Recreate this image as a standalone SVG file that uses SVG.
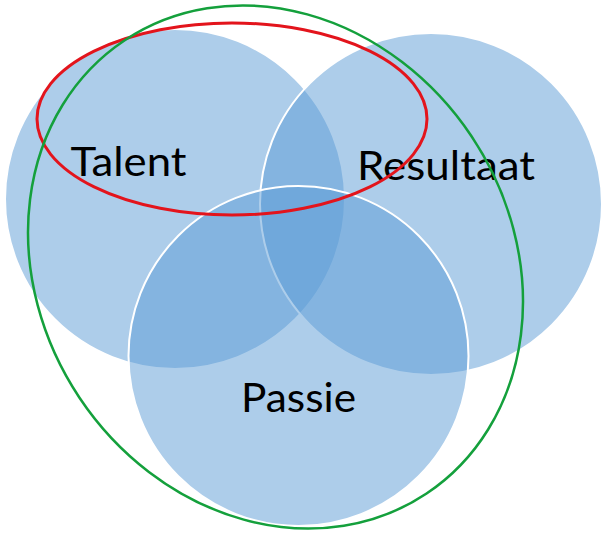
<svg xmlns="http://www.w3.org/2000/svg" width="605" height="536" viewBox="0 0 605 536">
<style>
.c{fill:#5b9bd5;fill-opacity:0.5;stroke:#fff;stroke-width:2}
.t{font-family:Lato,"Open Sans","Liberation Sans",sans-serif;font-size:41px;fill:#000;text-anchor:middle}
</style>
<rect width="605" height="536" fill="#fff"/>
<g id="talent"><circle class="c" cx="175" cy="199" r="170"/></g>
<g id="resultaat"><circle class="c" cx="431" cy="204" r="171"/></g>
<g id="passie"><circle class="c" cx="298.5" cy="356" r="170"/></g>
<g id="labels">
<text class="t" x="128.5" y="176" textLength="116" lengthAdjust="spacingAndGlyphs">Talent</text>
<text class="t" x="446" y="180" textLength="178" lengthAdjust="spacingAndGlyphs">Resultaat</text>
<text class="t" x="298.5" y="412" textLength="115" lengthAdjust="spacingAndGlyphs">Passie</text>
</g>
<g id="connectors">
<ellipse cx="232" cy="119" rx="195" ry="96" fill="none" stroke="#e3141c" stroke-width="3"/>
<ellipse transform="translate(275.5,267) rotate(-33.7)" cx="0" cy="0" rx="235.6" ry="272.3" fill="none" stroke="#14a03c" stroke-width="2.5"/>
</g>
</svg>
